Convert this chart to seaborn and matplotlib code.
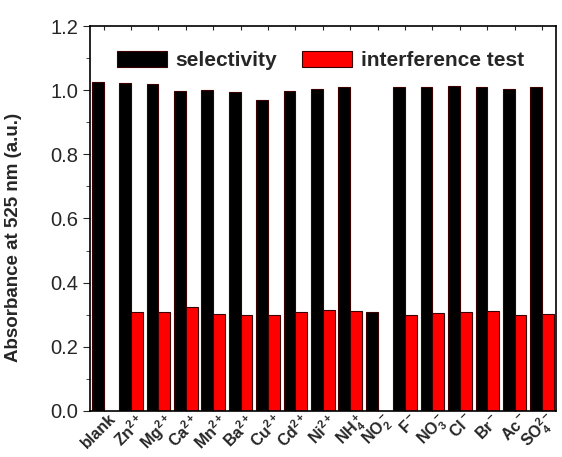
import pandas as pd
import seaborn as sns
from matplotlib import pyplot as plt
from matplotlib import ticker
from matplotlib.transforms import ScaledTranslation

sns.set_style("ticks")
plt.rcParams["font.family"] = ["Liberation Sans", "DejaVu Sans"]
plt.rcParams["mathtext.fontset"] = "custom"
plt.rcParams["mathtext.rm"] = "Liberation Sans:bold"
plt.rcParams["mathtext.bf"] = "Liberation Sans:bold"
plt.rcParams["mathtext.it"] = "Liberation Sans:bold"

ions = ["blank", "Zn", "Mg", "Ca", "Mn", "Ba", "Cu", "Cd", "Ni", "NH4",
        "NO2", "F", "NO3", "Cl", "Br", "Ac", "SO4"]
tick_labels = ["blank", r"Zn$^{2+}$", r"Mg$^{2+}$", r"Ca$^{2+}$", r"Mn$^{2+}$",
               r"Ba$^{2+}$", r"Cu$^{2+}$", r"Cd$^{2+}$", r"Ni$^{2+}$",
               r"NH$_4^+$", r"NO$_2^-$", r"F$^-$", r"NO$_3^-$", r"Cl$^-$",
               r"Br$^-$", r"Ac$^-$", r"SO$_4^{2-}$"]
selectivity = [1.026, 1.022, 1.020, 0.997, 1.000, 0.993, 0.970, 0.997, 1.005,
               1.010, 0.310, 1.010, 1.010, 1.013, 1.010, 1.005, 1.010]
interference = [None, 0.308, 0.310, 0.323, 0.302, 0.298, 0.298, 0.310, 0.315,
                0.313, None, 0.298, 0.305, 0.310, 0.313, 0.298, 0.303]

df = pd.concat([
    pd.DataFrame({"ion": ions, "value": selectivity, "test": "selectivity"}),
    pd.DataFrame({"ion": ions, "value": interference, "test": "interference test"}),
], ignore_index=True)
df["value"] = df["value"].astype(float)

fig = plt.figure(figsize=(5.62, 4.57), dpi=100)
ax = fig.add_axes([0.160, 0.1007, 0.829, 0.8424])

sns.barplot(data=df, x="ion", y="value", hue="test", order=ions,
            hue_order=["selectivity", "interference test"],
            palette=["#000000", "#ff0000"], width=0.86, ax=ax,
            edgecolor="#3a0000", linewidth=0.8, saturation=1)

ax.set_xlim(-0.5, 16.5)
ax.set_ylim(0, 1.2)
ax.yaxis.set_major_locator(ticker.MultipleLocator(0.2))
ax.yaxis.set_minor_locator(ticker.MultipleLocator(0.1))
ax.yaxis.set_major_formatter(ticker.FormatStrFormatter("%.1f"))
ax.set_xticks(range(len(ions)))
ax.set_xticklabels(tick_labels, rotation=45, ha="right", rotation_mode="anchor",
                   fontsize=11.5, fontweight="bold")
ax.tick_params(axis="x", direction="in", length=3, top=True, pad=3)
ax.tick_params(axis="y", which="major", direction="out", length=5, labelsize=14.5)
ax.tick_params(axis="y", which="minor", direction="out", length=3)
for s in ax.spines.values():
    s.set_visible(True)
    s.set_linewidth(1.2)
    s.set_color("black")

ax.set_xlabel("")
ax.set_ylabel("Absorbance at 525 nm (a.u.)", fontsize=13.5, fontweight="bold")
ax.yaxis.set_label_coords(-0.146, 0.45)

ax.legend(loc="upper center", bbox_to_anchor=(0.495, 0.985), ncol=2, frameon=False,
          prop={"weight": "bold", "size": 15}, handlelength=2.4, handleheight=0.85,
          columnspacing=1.2, handletextpad=0.4)

# nudge the slanted labels up and right, like the original (after ticks exist)
fig.canvas.draw()
labels = ax.get_xticklabels()
for i, lab in enumerate(labels):
    dx, dy = (0.05, 0.04) if i < len(labels) - 1 else (0.02, 0.07)
    lab.set_transform(lab.get_transform() + ScaledTranslation(dx, dy, fig.dpi_scale_trans))

fig.savefig("out.png", dpi=100)
